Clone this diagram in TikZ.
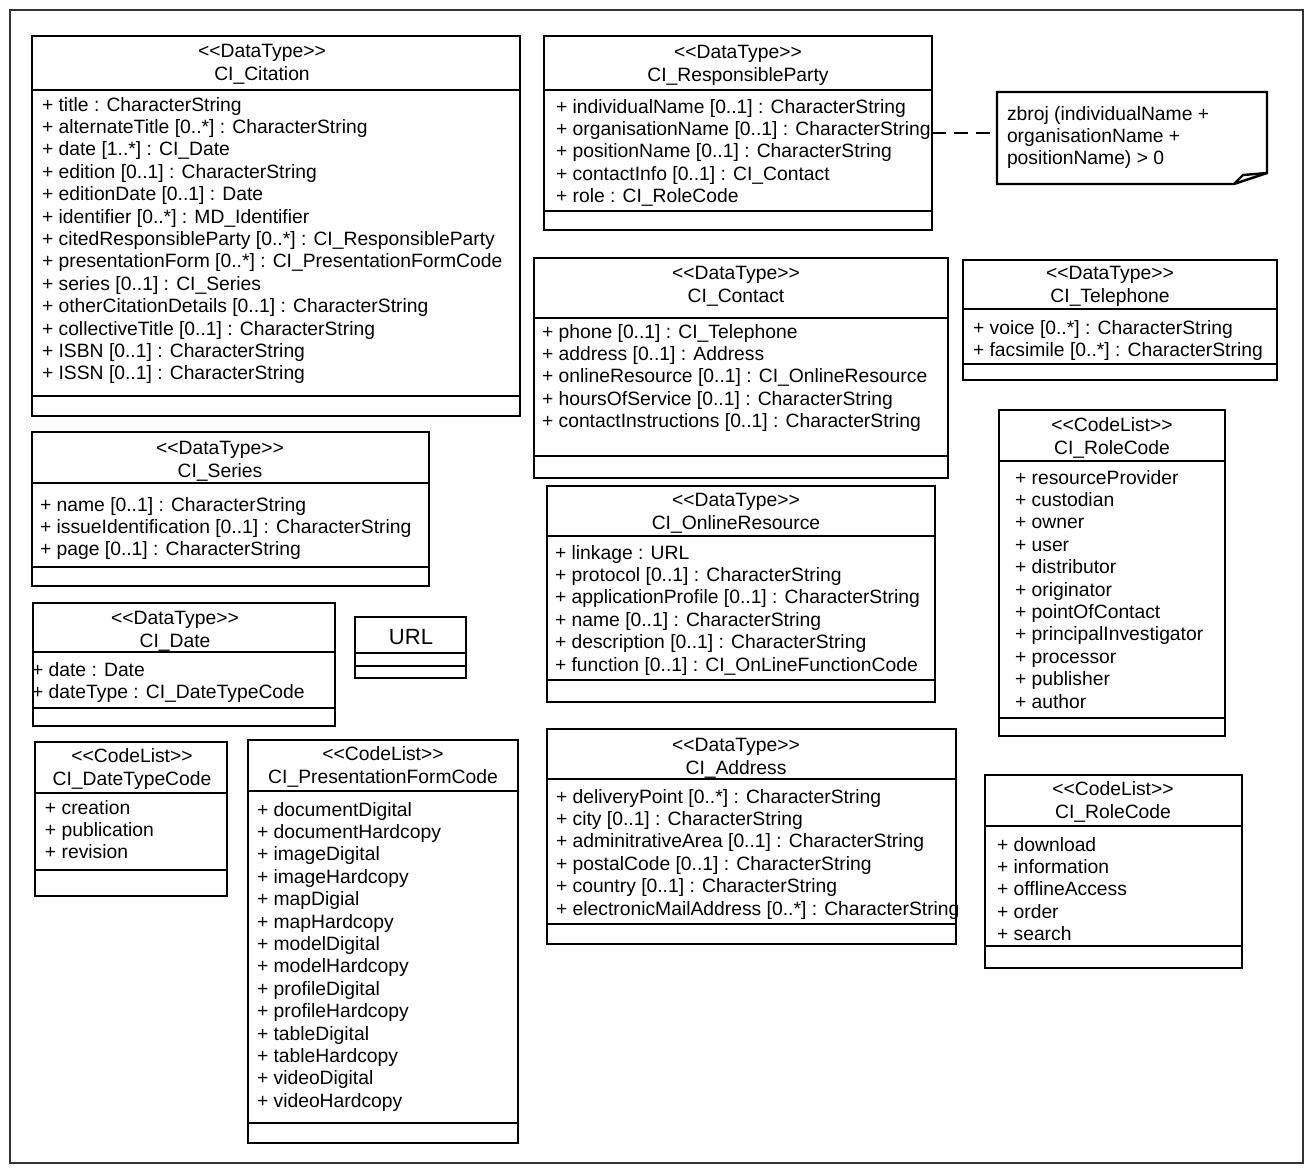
\documentclass[tikz,border=0pt]{standalone}
\usepackage{fontspec}
\setmainfont{Liberation Sans}
\tikzset{
  frame/.style={draw=black!80, line width=1.5pt, inner sep=0pt, outer sep=0pt},
  umlbox/.style={draw=black, line width=2.4pt, inner sep=0pt, outer sep=0pt, fill=white},
  divider/.style={draw=black, line width=2.4pt},
  txt/.style={font=\fontsize{19.3}{22.4}\selectfont, inner sep=0pt, outer sep=0pt, text=black},
  bigtxt/.style={font=\fontsize{22}{26}\selectfont, inner sep=0pt, outer sep=0pt, text=black},
  notebox/.style={draw=black, line width=2.4pt, line join=miter, fill=white},
  link/.style={draw=black, line width=2.4pt, dash pattern=on 14pt off 8pt},
}
% #1 name, #2 L, #3 T, #4 R, #5 B, #6 header divider y, #7 lower divider y
\newcommand\umlcls[7]{%
  \node[umlbox, anchor=north west, minimum width={#4-#2}, minimum height={#5-#3}] (#1) at (#2,#3) {};
  \draw[divider] (#1.west |- 0,#6) -- (#1.east |- 0,#6);
  \draw[divider] (#1.west |- 0,#7) -- (#1.east |- 0,#7);
}
% #1 name, #2 centre x, #3 stereotype baseline, #4 stereotype, #5 class name
\newcommand\umlhead[5]{%
  \node[txt, anchor=base] (#1-st) at (#2,#3) {<\kern0pt<#4>\kern0pt>};
  \node[txt, anchor=base] (#1-nm) at (#2,{#3+23}) {#5};
}
% #1 name, #2 x, #3 first baseline, #4 list
\newcommand\umlattrs[4]{%
  \foreach \t [count=\i from 0] in {#4} {\node[txt, anchor=base west] (#1-a\i) at (#2,{#3+22.4*\i}) {\t};}
}
\begin{document}
\begin{tikzpicture}[x=1pt, y=-1pt]
\useasboundingbox (0,0) rectangle (1310,1171);
\node[frame, anchor=north west, minimum width=1293, minimum height=1153] (frame) at (10,10) {};

% CI_Citation
\umlcls{cit}{32}{36}{520}{416}{90}{396}
\umlhead{cit}{262}{57}{DataType}{CI\_Citation}
\umlattrs{cit}{42}{111}{+ title : CharacterString,
 + alternateTitle [0..*] : CharacterString,
 + date [1..*] : CI\_Date,
 + edition [0..1] : CharacterString,
 + editionDate [0..1] : Date,
 + identifier [0..*] : MD\_Identifier,
 + citedResponsibleParty [0..*] : CI\_ResponsibleParty,
 + presentationForm [0..*] : CI\_PresentationFormCode,
 + series [0..1] : CI\_Series,
 + otherCitationDetails [0..1] : CharacterString,
 + collectiveTitle [0..1] : CharacterString,
 + ISBN [0..1] : CharacterString,
 + ISSN [0..1] : CharacterString}

% CI_ResponsibleParty
\umlcls{rp}{544}{36}{932}{230}{90}{211}
\umlhead{rp}{738}{58}{DataType}{CI\_ResponsibleParty}
\umlattrs{rp}{556}{113}{+ individualName [0..1] : CharacterString,
 + organisationName [0..1] : CharacterString,
 + positionName [0..1] : CharacterString,
 + contactInfo [0..1] : CI\_Contact,
 + role : CI\_RoleCode}

% Note
\node[anchor=north west, minimum width=270, minimum height=92, inner sep=0pt, outer sep=0pt] (note) at (997,92) {};
\draw[notebox] (note.north west) -- (note.north east) -- ([yshift=11pt]note.south east) -- ([xshift=-33pt]note.south east) -- (note.south west) -- cycle;
\draw[notebox, fill=none] ([xshift=-33pt]note.south east) -- ([xshift=-24pt,yshift=9pt]note.south east) -- ([yshift=11pt]note.south east);
\umlattrs{note}{1007}{120}{zbroj (individualName +,
 organisationName +,
 positionName) > 0}
\draw[link] (rp.east) -- (rp.east -| note.west);

% CI_Contact
\umlcls{con}{534}{258}{948}{478}{318}{456}
\umlhead{con}{736}{279}{DataType}{CI\_Contact}
\umlattrs{con}{542}{338}{+ phone [0..1] : CI\_Telephone,
 + address [0..1] : Address,
 + onlineResource [0..1] : CI\_OnlineResource,
 + hoursOfService [0..1] : CharacterString,
 + contactInstructions [0..1] : CharacterString}

% CI_Telephone
\umlcls{tel}{963}{260}{1277}{380}{309}{364}
\umlhead{tel}{1110}{279}{DataType}{CI\_Telephone}
\umlattrs{tel}{973}{334}{+ voice [0..*] : CharacterString,
 + facsimile [0..*] : CharacterString}

% CI_RoleCode (1)
\umlcls{roleA}{999}{410}{1225}{736}{461}{718}
\umlhead{roleA}{1112}{431}{CodeList}{CI\_RoleCode}
\umlattrs{roleA}{1015}{484}{+ resourceProvider,
 + custodian,
 + owner,
 + user,
 + distributor,
 + originator,
 + pointOfContact,
 + principalInvestigator,
 + processor,
 + publisher,
 + author}

% CI_Series
\umlcls{ser}{32}{432}{429}{586}{483}{567}
\umlhead{ser}{220}{454}{DataType}{CI\_Series}
\umlattrs{ser}{40}{511}{+ name [0..1] : CharacterString,
 + issueIdentification [0..1] : CharacterString,
 + page [0..1] : CharacterString}

% CI_Date
\umlcls{date}{33}{603}{335}{726}{652}{708}
\umlhead{date}{175}{624}{DataType}{CI\_Date}
\umlattrs{date}{32}{676}{+ date : Date,
 + dateType : CI\_DateTypeCode}

% URL
\umlcls{url}{355}{617}{466}{678}{653}{666}
\node[bigtxt, anchor=base] (url-nm) at (411,644) {URL};

% CI_OnlineResource
\umlcls{olr}{547}{486}{935}{702}{536}{680}
\umlhead{olr}{736}{506}{DataType}{CI\_OnlineResource}
\umlattrs{olr}{555}{559}{+ linkage : URL,
 + protocol [0..1] : CharacterString,
 + applicationProfile [0..1] : CharacterString,
 + name [0..1] : CharacterString,
 + description [0..1] : CharacterString,
 + function [0..1] : CI\_OnLineFunctionCode}

% CI_Address
\umlcls{addr}{547}{729}{956}{944}{779}{924}
\umlhead{addr}{736}{751}{DataType}{CI\_Address}
\umlattrs{addr}{556}{803}{+ deliveryPoint [0..*] : CharacterString,
 + city [0..1] : CharacterString,
 + adminitrativeArea [0..1] : CharacterString,
 + postalCode [0..1] : CharacterString,
 + country [0..1] : CharacterString,
 + electronicMailAddress [0..*] : CharacterString}

% CI_RoleCode (2)
\umlcls{roleB}{985}{775}{1242}{968}{826}{946}
\umlhead{roleB}{1113}{795}{CodeList}{CI\_RoleCode}
\umlattrs{roleB}{997}{851}{+ download,
 + information,
 + offlineAccess,
 + order,
 + search}

% CI_DateTypeCode
\umlcls{dtc}{35}{742}{227}{896}{793}{870}
\umlhead{dtc}{132}{762}{CodeList}{CI\_DateTypeCode}
\umlattrs{dtc}{45}{814}{+ creation,
 + publication,
 + revision}

% CI_PresentationFormCode
\umlcls{pfc}{248}{740}{518}{1143}{791}{1123}
\umlhead{pfc}{383}{760}{CodeList}{CI\_PresentationFormCode}
\umlattrs{pfc}{257}{816}{+ documentDigital,
 + documentHardcopy,
 + imageDigital,
 + imageHardcopy,
 + mapDigial,
 + mapHardcopy,
 + modelDigital,
 + modelHardcopy,
 + profileDigital,
 + profileHardcopy,
 + tableDigital,
 + tableHardcopy,
 + videoDigital,
 + videoHardcopy}
\end{tikzpicture}
\end{document}
